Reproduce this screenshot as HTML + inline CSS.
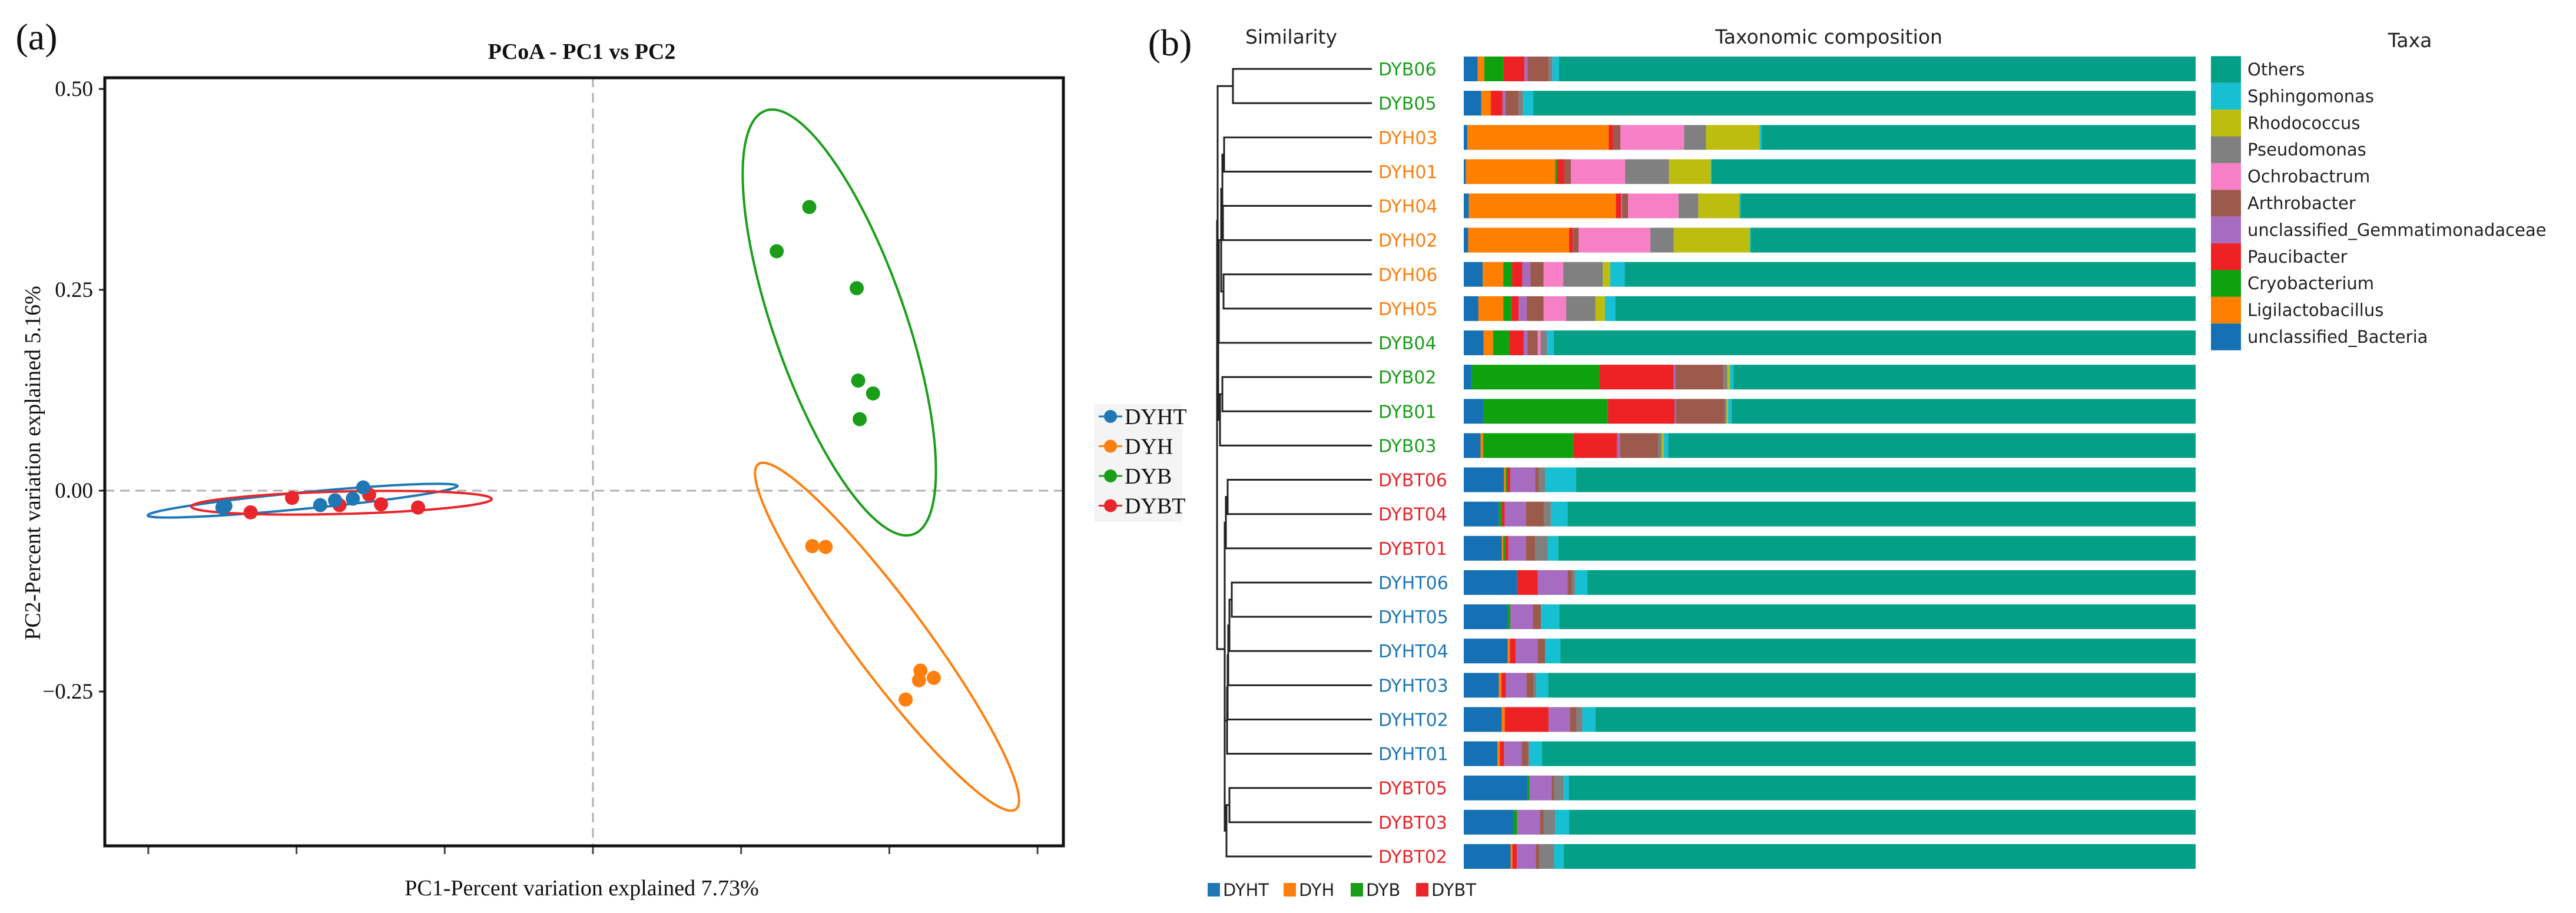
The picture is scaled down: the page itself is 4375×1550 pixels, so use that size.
<!DOCTYPE html>
<html><head><meta charset="utf-8"><style>
html,body{margin:0;padding:0;background:#fff;}
svg{display:block;}
</style></head><body>
<svg id="fig" width="4375" height="1550" viewBox="0 0 4375 1550" xmlns="http://www.w3.org/2000/svg">
<rect width="4375" height="1550" fill="#fff"/>
<g id="pa"></g>
<g id="pb"></g>
</svg>
<script>
// ===== Panel (a) data =====
const groups = ["DYHT","DYH","DYB","DYBT"];
const groupColors = ["#1f77b4","#ff7f0e","#1a9e1a","#e8262c"];
const dyhtPC1 = [-0.250,-0.248,-0.184,-0.174,-0.162,-0.155];
const dyhtPC2 = [-0.021,-0.019,-0.018,-0.012,-0.010,0.004];
const dyhPC1 = [0.148,0.157,0.221,0.220,0.230,0.211];
const dyhPC2 = [-0.069,-0.070,-0.224,-0.236,-0.233,-0.260];
const dybPC1 = [0.146,0.124,0.178,0.179,0.189,0.180];
const dybPC2 = [0.353,0.298,0.252,0.137,0.121,0.089];
const dybtPC1 = [-0.231,-0.203,-0.171,-0.151,-0.143,-0.118];
const dybtPC2 = [-0.027,-0.009,-0.018,-0.005,-0.017,-0.021];
// ellipse tips [x1,y1,x2,y2] in data units
const ellipseTips = [[-0.3004,-0.0308,-0.0914,0.0059],[0.1116,0.033,0.2853,-0.3966],[0.1164,0.4729,0.2161,-0.0543],[-0.271,-0.0198,-0.0683,-0.0103]];
const ellipseMinor = [14,62,112,19];
const yTickVals = [0.50,0.25,0.00,-0.25];
const yTickLabels = ["0.50","0.25","0.00","\u22120.25"];
const xTickVals = [-0.3,-0.2,-0.1,0,0.1,0.2,0.3];

// ===== Panel (b) data =====
const samples = ["DYB06","DYB05","DYH03","DYH01","DYH04","DYH02","DYH06","DYH05","DYB04","DYB02","DYB01","DYB03","DYBT06","DYBT04","DYBT01","DYHT06","DYHT05","DYHT04","DYHT03","DYHT02","DYHT01","DYBT05","DYBT03","DYBT02"];
const sampleGroup = [2,2,1,1,1,1,1,1,2,2,2,2,3,3,3,0,0,0,0,0,0,3,3,3];
const taxa = ["unclassified_Bacteria","Ligilactobacillus","Cryobacterium","Paucibacter","unclassified_Gemmatimonadaceae","Arthrobacter","Ochrobactrum","Pseudomonas","Rhodococcus","Sphingomonas","Others"];
const taxaColors = ["#1670b4","#ff7f00","#0ea20e","#ee2224","#a56cc1","#9c5a4c","#f77fc6","#808080","#bdbd10","#17bfd2","#03a087"];
const bacteria = [1.9,2.4,0.5,0.3,0.7,0.6,2.6,2.0,2.7,1.1,2.7,2.3,5.5,4.8,5.2,7.3,6.0,6.0,4.8,5.2,4.6,8.7,6.8,6.4];
const ligilactobacillus = [0.9,1.3,19.3,12.2,20.1,13.8,2.8,3.4,1.3,0,0,0.35,0.25,0,0.2,0,0,0.3,0.35,0.4,0.35,0,0,0.25];
const cryobacterium = [2.6,0,0,0.25,0,0,1.2,1.1,2.2,17.4,17.0,12.3,0.2,0.4,0.3,0,0.35,0,0,0,0,0.3,0.5,0];
const paucibacter = [2.9,1.6,0.6,1.0,0.7,0.5,1.4,1.0,2.0,10.2,9.1,6.0,0.4,0.4,0.4,2.8,0,0.8,0.6,6.0,0.55,0,0,0.6];
const gemmatimonadaceae = [0.4,0.4,0,0,0.15,0,1.1,1.1,0.5,0.2,0.2,0.4,3.4,2.9,2.4,4.1,3.1,3.0,2.8,2.9,2.4,3.0,3.1,2.6];
const arthrobacter = [2.9,1.8,1.0,0.9,0.8,0.8,1.8,2.3,1.4,6.6,6.6,5.2,0.5,2.5,1.3,0.6,1.1,1.0,1.0,0.9,0.9,0.35,0.5,0.5];
const ochrobactrum = [0,0,8.7,7.4,6.9,9.8,2.7,3.1,0.4,0,0,0,0,0,0,0,0,0,0,0,0,0,0,0];
const pseudomonas = [0.5,0.6,3.0,6.0,2.7,3.2,5.4,4.0,0.9,0.5,0.3,0.5,0.9,0.9,1.7,0.4,0,0,0.35,0.8,0.2,1.3,1.6,2.0];
const rhodococcus = [0,0,7.3,5.7,5.6,10.4,1.0,1.3,0,0.35,0.2,0.25,0,0,0,0,0,0,0,0,0,0,0,0];
const sphingomonas = [0.9,1.4,0.3,0.1,0.2,0.1,2.0,1.4,0.9,0.5,0.5,0.65,4.2,2.3,1.4,1.7,2.5,2.1,1.65,1.8,1.7,0.7,1.9,1.3];
// dendrogram: [childA, childB, mergeX(px)] ; leaves are 0..23, internal nodes "n#"
const treeNodes = [[0,1,2094],[2,3,2079],[4,5,2077],["n1","n2",2076],[6,7,2078],["n3","n4",2074],[9,10,2076],["n6",11,2072],["n5",8,2070],["n8","n7",2069],[12,13,2085],["n10",14,2082],[15,16,2092],["n12",17,2088],["n13",18,2086],["n14",19,2085],["n15",20,2084],[21,22,2088],["n17",23,2083],["n16","n18",2080],["n11","n19",2080],["n0","n9",2068],["n21","n20",2067]];

const NS="http://www.w3.org/2000/svg";
function mk(parent,tag,attrs,text){const e=document.createElementNS(NS,tag);for(const k in attrs)e.setAttribute(k,attrs[k]);if(text!==undefined)e.textContent=text;parent.appendChild(e);return e;}

// ===== Panel (a) =====
const pa=document.getElementById('pa');
const PL=178,PR=1806,PT=132,PB=1436;
const xS=v=>1007+v*2517;
const yS=v=>833-v*1364;
let t;
t=mk(pa,'text',{x:62,y:84,'font-family':'Liberation Serif, serif','font-size':64,'text-anchor':'middle',fill:'#111'},'(a)');

t=mk(pa,'text',{x:988,y:100,'font-family':'Liberation Serif, serif','font-size':38,'font-weight':'bold','text-anchor':'middle',fill:'#111'},'PCoA - PC1 vs PC2');

// dashed zero lines
t=mk(pa,'line',{x1:xS(0),x2:xS(0),y1:PT,y2:PB,stroke:'#b0b0b0','stroke-width':3,'stroke-dasharray':'16,10'});

t=mk(pa,'line',{x1:PL,x2:PR,y1:yS(0),y2:yS(0),stroke:'#b0b0b0','stroke-width':3,'stroke-dasharray':'16,10'});

// y ticks
yTickVals.forEach((v,i)=>{
  const y=yS(v);
  const l=mk(pa,'line',{x1:PL-10,x2:PL,y1:y,y2:y,stroke:'#222','stroke-width':3});
  
  const tx=mk(pa,'text',{x:PL-20,y:y+12,'font-family':'Liberation Serif, serif','font-size':37,'text-anchor':'end',fill:'#111'},yTickLabels[i]);
  
});
xTickVals.forEach(v=>{
  const x=xS(v);
  const l=mk(pa,'line',{x1:x,x2:x,y1:PB+2,y2:PB+14,stroke:'#444','stroke-width':3});
  
});
t=mk(pa,'text',{x:988,y:1520,'font-family':'Liberation Serif, serif','font-size':38,'text-anchor':'middle',fill:'#111'},'PC1-Percent variation explained 7.73%');

t=mk(pa,'text',{x:0,y:0,transform:'translate(68,786) rotate(-90)','font-family':'Liberation Serif, serif','font-size':38,'text-anchor':'middle',fill:'#111'},'PC2-Percent variation explained 5.16%');

// ellipses
ellipseTips.forEach((e,i)=>{
  const x1=xS(e[0]),y1=yS(e[1]),x2=xS(e[2]),y2=yS(e[3]);
  const cx=(x1+x2)/2,cy=(y1+y2)/2,a=Math.hypot(x2-x1,y2-y1)/2,ang=Math.atan2(y2-y1,x2-x1)*180/Math.PI;
  const el=mk(pa,'ellipse',{cx:cx,cy:cy,rx:a,ry:ellipseMinor[i],transform:`rotate(${ang} ${cx} ${cy})`,fill:'none',stroke:groupColors[i],'stroke-width':4});
  
});
// points
const pcX=[dyhtPC1,dyhPC1,dybPC1,dybtPC1],pcY=[dyhtPC2,dyhPC2,dybPC2,dybtPC2];
[3,0,1,2].forEach(g=>{
  pcX[g].forEach((v,j)=>{
    const c=mk(pa,'circle',{cx:xS(v),cy:yS(pcY[g][j]),r:12,fill:groupColors[g]});
    
  });
});
// frame
t=mk(pa,'rect',{x:PL,y:PT,width:PR-PL,height:PB-PT,fill:'none',stroke:'#111','stroke-width':5});

// legend
const lg=mk(pa,'g',{});

mk(lg,'rect',{x:1858,y:686,width:150,height:200,fill:'#f4f4f4'});
groups.forEach((gname,i)=>{
  const y=707+i*50.5;
  const it=mk(lg,'g',{});
  
  mk(it,'line',{x1:1866,x2:1906,y1:y,y2:y,stroke:groupColors[i],'stroke-width':3});
  mk(it,'circle',{cx:1886,cy:y,r:11,fill:groupColors[i]});
  mk(it,'text',{x:1910,y:y+13,'font-family':'Liberation Serif, serif','font-size':38,fill:'#111'},gname);
});

// ===== Panel (b) =====
const pb=document.getElementById('pb');
const BX0=2486,BX1=3729,ROW0=117,ROWS=58.13,BH=42;
const rowY=i=>ROW0+i*ROWS;
const xB=p=>BX0+p/100*(BX1-BX0);
const SF='DejaVu Sans, Liberation Sans, sans-serif';
t=mk(pb,'text',{x:1987,y:94,'font-family':'Liberation Serif, serif','font-size':64,'text-anchor':'middle',fill:'#111'},'(b)');

t=mk(pb,'text',{x:2193,y:74,'font-family':SF,'font-size':33,'text-anchor':'middle',fill:'#222'},'Similarity');

t=mk(pb,'text',{x:3106,y:74,'font-family':SF,'font-size':33,'text-anchor':'middle',fill:'#222'},'Taxonomic composition');

t=mk(pb,'text',{x:4093,y:80,'font-family':SF,'font-size':33,'text-anchor':'middle',fill:'#222'},'Taxa');

// dendrogram
const tree=mk(pb,'g',{stroke:'#222','stroke-width':3,fill:'none'});

const nodeY={},nodeX={};
const getY=c=>typeof c==='number'?rowY(c):nodeY[c];
const getX=c=>typeof c==='number'?2330:nodeX[c];
treeNodes.forEach((n,i)=>{
  const id='n'+i;
  const ya=getY(n[0]),yb=getY(n[1]),xa=getX(n[0]),xb=getX(n[1]),x=n[2];
  nodeY[id]=(ya+yb)/2;nodeX[id]=x;
  mk(tree,'path',{d:`M${xa},${ya}H${x}V${yb}H${xb}`});
});
// bars
const series=[bacteria,ligilactobacillus,cryobacterium,paucibacter,gemmatimonadaceae,arthrobacter,ochrobactrum,pseudomonas,rhodococcus,sphingomonas];
samples.forEach((s,i)=>{
  const y=rowY(i);
  const lab=mk(pb,'text',{x:2341,y:y+11,'font-family':SF,'font-size':30,fill:groupColors[sampleGroup[i]]},s);
  
  const bg=mk(pb,'g',{});
  
  let acc=0;
  series.forEach((arr,k)=>{
    const v=arr[i];if(v<=0)return;
    const r=mk(bg,'rect',{x:xB(acc),y:y-BH/2,width:xB(acc+v)-xB(acc),height:BH,fill:taxaColors[k]});
    
    acc+=v;
  });
  const r=mk(bg,'rect',{x:xB(acc),y:y-BH/2,width:xB(100)-xB(acc),height:BH,fill:taxaColors[10]});
  
});
// taxa legend
for(let i=0;i<11;i++){
  const k=10-i;const y=118+i*45.4;
  const it=mk(pb,'g',{});
  
  mk(it,'rect',{x:3755,y:y-22.7,width:51,height:45.4,fill:taxaColors[k]});
  mk(it,'text',{x:3817,y:y+10,'font-family':SF,'font-size':29,fill:'#222'},taxa[k]);
}
// bottom group legend
const bx=[2051,2180,2294,2405];
groups.forEach((g,i)=>{
  const it=mk(pb,'g',{});
  
  mk(it,'rect',{x:bx[i],y:1499,width:21,height:23,fill:groupColors[i]});
  mk(it,'text',{x:bx[i]+26,y:1521,'font-family':SF,'font-size':29,fill:'#222'},g);
});
</script>
</body></html>
